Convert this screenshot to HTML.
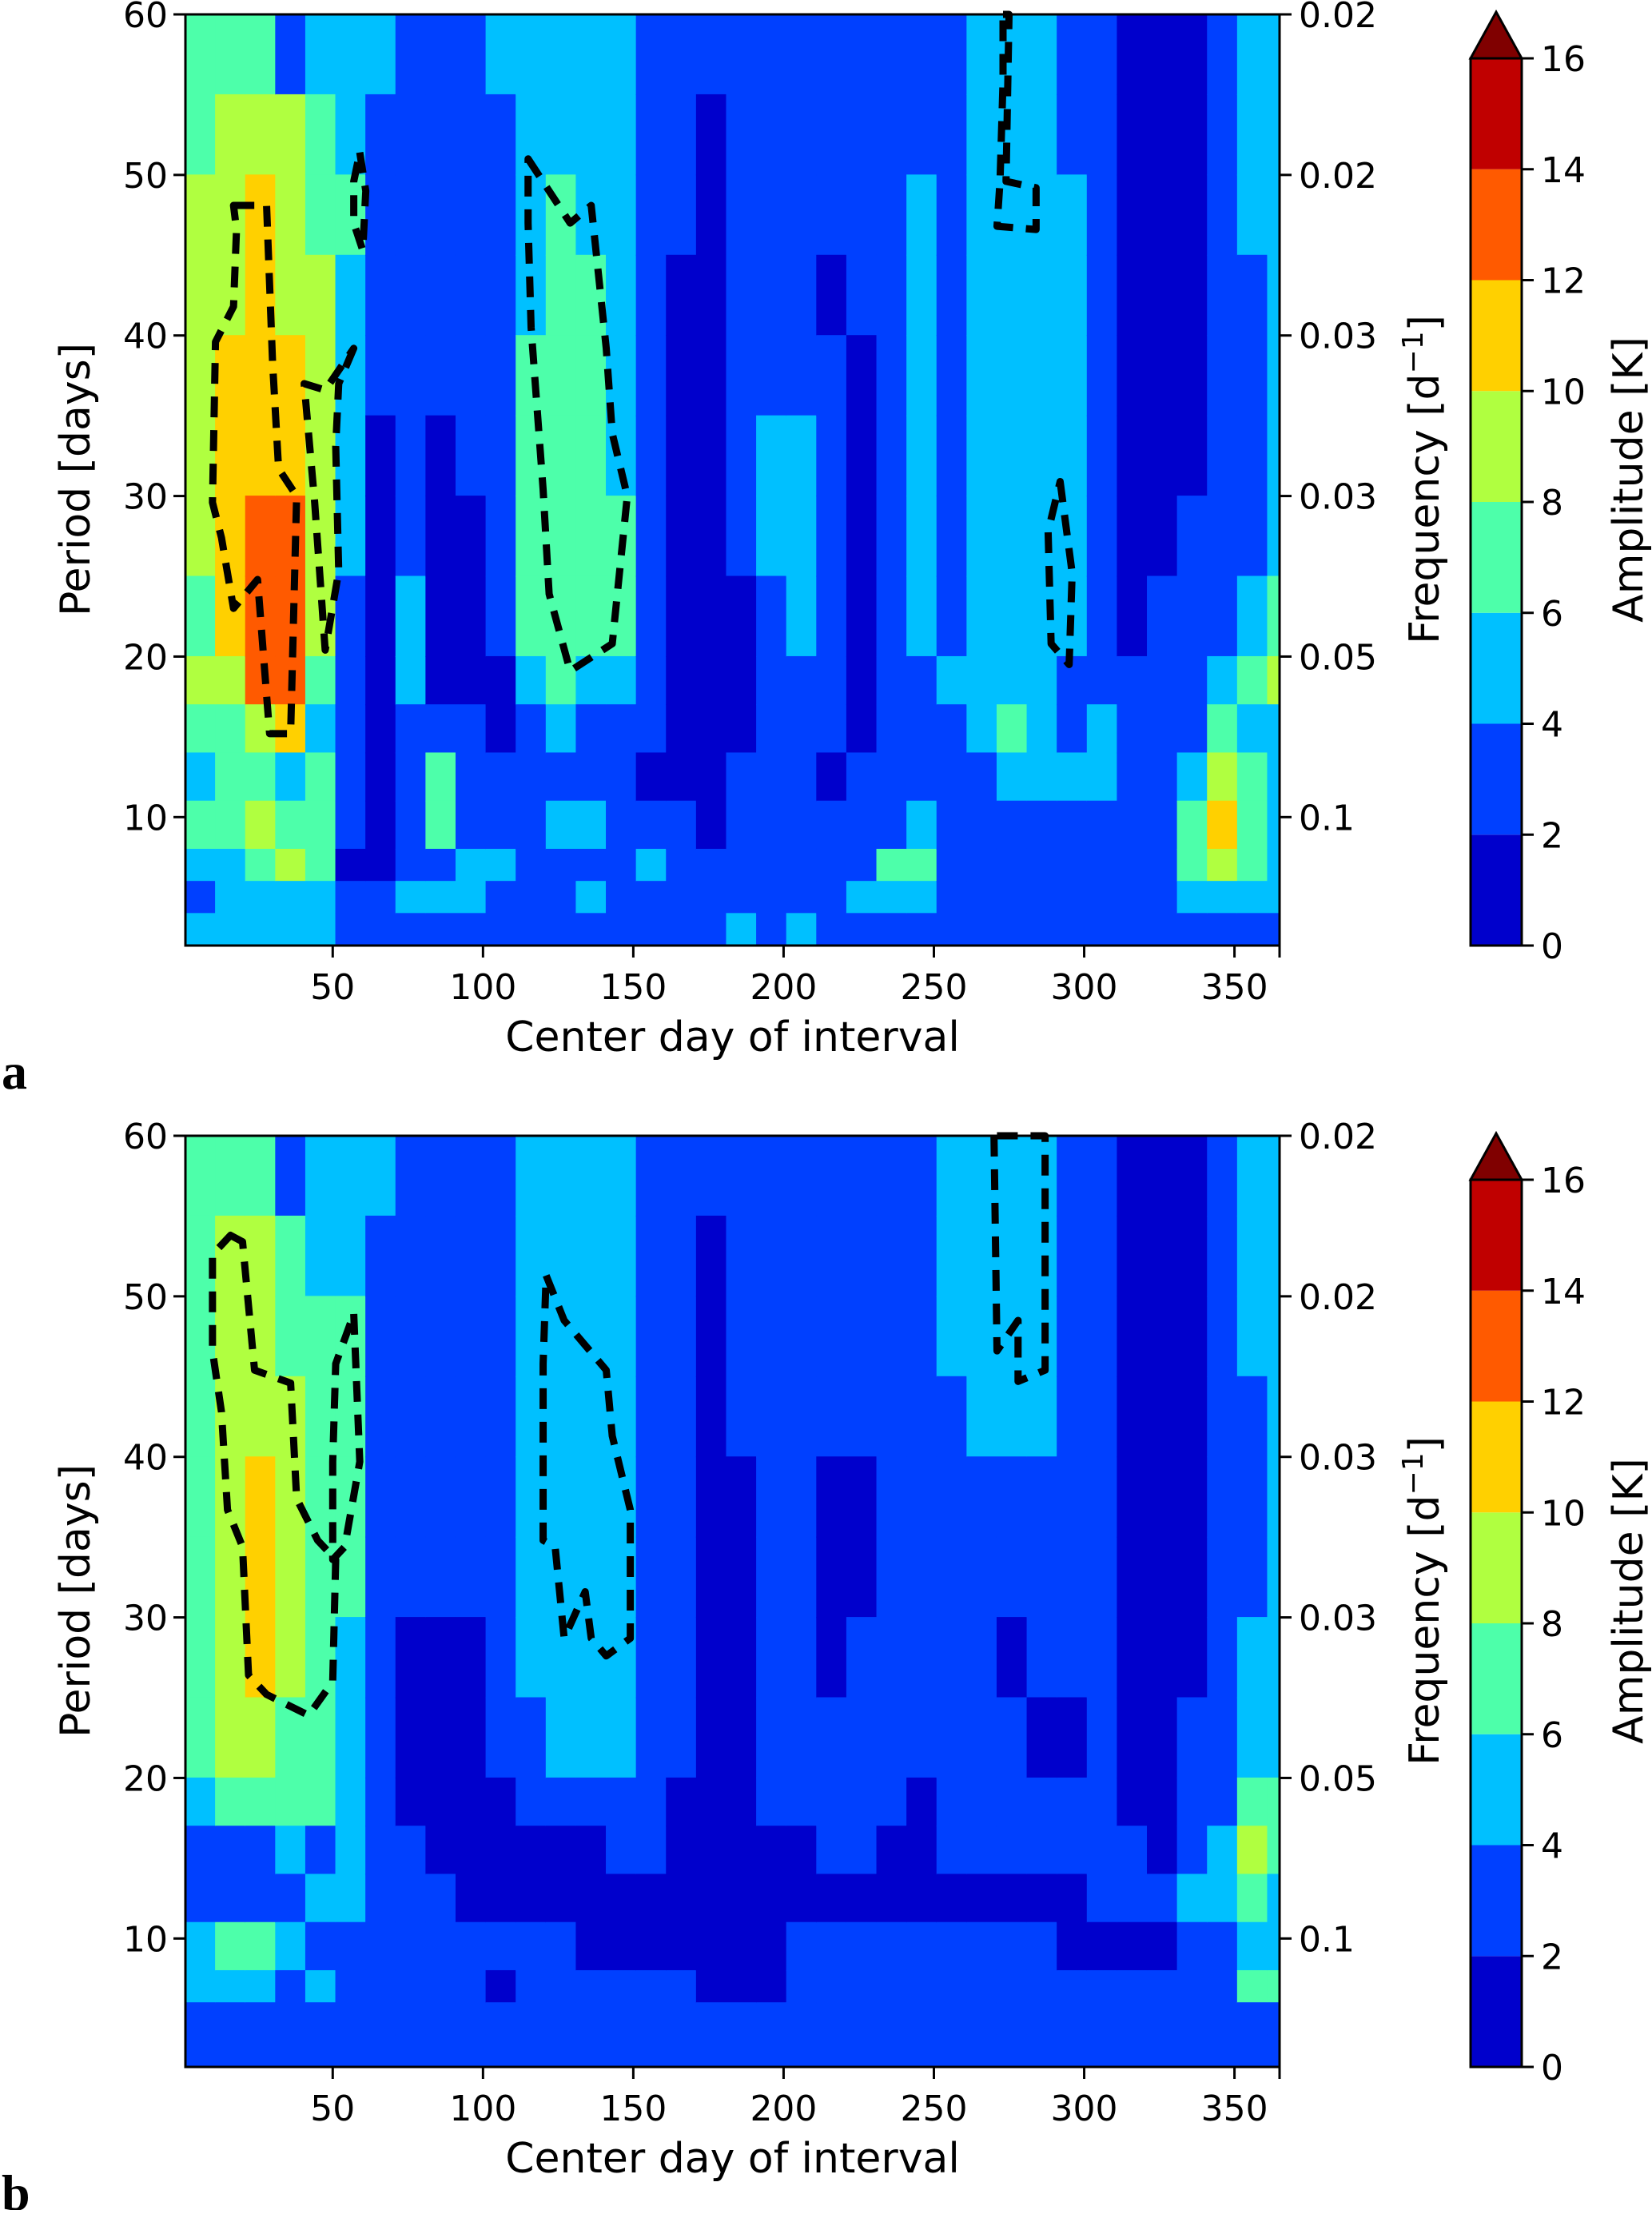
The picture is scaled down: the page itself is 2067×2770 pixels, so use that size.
<!DOCTYPE html>
<html><head><meta charset="utf-8"><style>
body{margin:0;background:#fff}
svg text{font-family:"DejaVu Sans","Liberation Sans",sans-serif;fill:#000}
</style></head><body>
<svg id="fig" xmlns="http://www.w3.org/2000/svg" width="2067" height="2765" viewBox="0 0 2067 2765"></svg>
<script>
// ---- data ----
const dayBinStarts = [1,11,21,31,41,51,61,71,81,91,101,111,121,131,141,151,161,171,181,191,201,211,221,231,241,251,261,271,281,291,301,311,321,331,341,351,361];
const periodBands = [60,55,50,45,40,35,30,25,20,17,14,11,8,6,4,2];
const ampTicks = [0,2,4,6,8,10,12,14,16];
const dayTicks = [50,100,150,200,250,300,350];
const periodTicks = [10,20,30,40,50,60];
const freqTickLabels = ["0.1","0.05","0.03","0.03","0.02","0.02"];
const levelColors = ["#0000cc","#0040ff","#00c0ff","#4dffaa","#b0ff40","#ffd000","#ff5a00","#c00000"];
// amplitude bin per column (bin k = 2k..2k+2 K), rows from period 60 down to 2
const gridA = ["334444434323212","344455554333222","345555666434322","144455666523422","233444443233322","223222211111011","211110000000011","111111122111121","111110000133121","111111000111221","211111110011211","222233332111111","223333333212111","222333332112121","222222332111111","111111111101211","111000000001111","100000000000111","111111100011112","111112211111111","111112221111112","111011111101111","111100000011121","111111111111321","112222221112321","111111112111111","222222222211111","222222222321111","222222222221111","112222221121111","111111111221111","000000001111111","000000011111111","000000111123321","111111112345421","222111123233321","222222234222221"];
const gridB = ["333333332112211","344444443113211","344455543113211","133444433212111","223333333121211","223333222221111","211111111111111","111111000111111","111111000011111","111111000001111","111111110001011","222222211001111","222222221001111","222222221000111","222222221100111","111111111100111","111111110000111","100000000000011","111100000000011","111111111000011","111111111001111","111100011101111","111100111101111","111111111001111","111111110001111","222111111101111","222211111101111","222211011101111","222211101101111","111111101100111","111111111110111","000000000110111","000000000010111","000000011121111","111111111221111","222111223432311","222222223322311"];
const contourA1Days = [17,28,30,32,38,36,29,25,17,13,10,11,17,18];
const contourA1Periods = [48.1,48.1,38.3,31.7,30.0,15.2,15.2,24.8,23.0,27.4,29.6,39.6,41.8,46.6];
const contourA2Days = [57,52,51,52,47.5,44,40.5,47.5];
const contourA2Periods = [39.2,37.0,33.1,25.3,20.4,29.6,37.0,36.6];
const contourA3Days = [115,129,136,141,143,148,143,129,122,120,116,115];
const contourA3Periods = [51.0,47.0,48.1,39.2,33.9,30.0,20.8,19.1,23.9,30.4,40.5,47.0];
const contourA4Days = [273,275,274,284,284,271,272,273];
const contourA4Periods = [60,60,49.6,49.2,46.6,46.8,49.6,55.8];
const contourA5Days = [292,296,295,289,288];
const contourA5Periods = [30.9,25.2,19.5,20.8,27.8];
const contourA6Days = [59,61,60,57,57];
const contourA6Periods = [51.4,49,45.3,47,49.6];
const contourB1Days = [16,20,24,36,38,45,51,50,42,28,22,20,15,13,10,10];
const contourB1Periods = [53.8,53.4,45.4,44.6,37.4,34.8,33.6,26.0,23.9,25.2,26.4,34.4,36.7,42.8,46.6,52.6];
const contourB2Days = [57,59,54,50,50,51];
const contourB2Periods = [48.9,39.7,34.4,33.6,39.7,45.8];
const contourB3Days = [121,127,141,143,149,149,141,136,134,127,124,120,120];
const contourB3Periods = [51.3,48.5,45.4,41.3,36.7,28.7,27.6,28.7,31.6,28.7,34.4,34.8,45.8];
const contourB4Days = [270,271,278,278,287,287];
const contourB4Periods = [60,46.6,48.5,44.7,45.4,60];

// ---- drawing ----
const svg = document.getElementById('fig');
const NS = 'http://www.w3.org/2000/svg';
function mk(tag, attrs, parent){const e=document.createElementNS(NS,tag);for(const k in attrs)e.setAttribute(k,attrs[k]);(parent||svg).appendChild(e);return e;}
const X0=232,X1=1601,PH=1165;
const xDay = d => X0 + (d-1)*(X1-X0)/364;
function drawPanel(off, grid, contours, letter){
  const yP = p => off + 18 + (60-p)*PH/58;
  const g = mk('g',{});
  
  
  grid.forEach((col,ci)=>{
    const d0 = dayBinStarts[ci], d1 = ci+1<dayBinStarts.length? dayBinStarts[ci+1] : 365;
    for(let r=0;r<periodBands.length-1;r++){
      const lv = +col[r];
      const rc = mk('rect',{x:xDay(d0)-0.5,y:yP(periodBands[r])-0.5,width:xDay(d1)-xDay(d0)+1,height:yP(periodBands[r+1])-yP(periodBands[r])+1,fill:levelColors[lv]},g);
      
      
    }
  });
  contours.forEach(([ds,ps])=>{
    const pts = ds.map((d,i)=>xDay(d)+','+yP(ps[i])).join(' ');
    const pl = mk('polygon',{points:pts,fill:'none',stroke:'#000','stroke-width':9,'stroke-dasharray':'26 16','stroke-linejoin':'round'},g);
    
    
  });
  const fr = mk('rect',{x:X0,y:off+18,width:X1-X0,height:PH,fill:'none',stroke:'#000','stroke-width':3});
  
  
  dayTicks.forEach(d=>{
    mk('line',{x1:xDay(d),x2:xDay(d),y1:off+18+PH,y2:off+18+PH+15,stroke:'#000','stroke-width':3});
    const t = mk('text',{x:xDay(d),y:off+1250,'font-size':44,'text-anchor':'middle'}); t.textContent=d;
    
    
  });
  mk('line',{x1:X1,x2:X1,y1:off+18+PH,y2:off+18+PH+15,stroke:'#000','stroke-width':3});
  periodTicks.forEach((p,i)=>{
    mk('line',{x1:X0-15,x2:X0,y1:yP(p),y2:yP(p),stroke:'#000','stroke-width':3});
    mk('line',{x1:X1,x2:X1+15,y1:yP(p),y2:yP(p),stroke:'#000','stroke-width':3});
    const t = mk('text',{x:X0-22,y:yP(p)+16,'font-size':44,'text-anchor':'end'}); t.textContent=p;
    
    
    const f = mk('text',{x:X1+24,y:yP(p)+16,'font-size':44}); f.textContent=freqTickLabels[i];
    
    
  });
  const xl = mk('text',{x:(X0+X1)/2,y:off+1315,'font-size':52,'text-anchor':'middle'}); xl.textContent='Center day of interval';
  
  
  const yl = mk('text',{x:0,y:0,'font-size':52,'text-anchor':'middle',transform:`translate(112,${off+600}) rotate(-90)`}); yl.textContent='Period [days]';
  
  
  const fl = mk('text',{x:0,y:0,'font-size':52,'text-anchor':'middle',transform:`translate(1800,${off+600}) rotate(-90)`});
  fl.innerHTML='Frequency [d<tspan baseline-shift="super" font-size="36">−1</tspan>]';
  
  
  // colorbar
  const cb0=1840,cb1=1904,cTop=off+73,cBot=off+1183;
  const yA = a => cBot - a*(cBot-cTop)/16;
  for(let i=0;i<8;i++){
    const r = mk('rect',{x:cb0,y:yA(ampTicks[i+1]),width:cb1-cb0,height:yA(ampTicks[i])-yA(ampTicks[i+1]),fill:levelColors[i]});
    
    
  }
  const tri = mk('polygon',{points:`${cb0},${cTop} ${(cb0+cb1)/2},${off+15} ${cb1},${cTop}`,fill:'#800000',stroke:'#000','stroke-width':3});
  
  
  mk('rect',{x:cb0,y:cTop,width:cb1-cb0,height:cBot-cTop,fill:'none',stroke:'#000','stroke-width':3});
  ampTicks.forEach(a=>{
    mk('line',{x1:cb1,x2:cb1+15,y1:yA(a),y2:yA(a),stroke:'#000','stroke-width':3});
    const t = mk('text',{x:cb1+24,y:yA(a)+16,'font-size':44}); t.textContent=a;
    
    
  });
  const al = mk('text',{x:0,y:0,'font-size':52,'text-anchor':'middle',transform:`translate(2055,${off+600}) rotate(-90)`}); al.textContent='Amplitude [K]';
  
  
  const pl = mk('text',{x:2,y:off+1362,'font-size':64,'font-weight':'bold',style:'font-family:"Liberation Serif",serif'}); pl.textContent=letter;
  
  
}
drawPanel(0, gridA, [[contourA1Days,contourA1Periods],[contourA2Days,contourA2Periods],[contourA3Days,contourA3Periods],[contourA4Days,contourA4Periods],[contourA5Days,contourA5Periods],[contourA6Days,contourA6Periods]], 'a');
drawPanel(1403, gridB, [[contourB1Days,contourB1Periods],[contourB2Days,contourB2Periods],[contourB3Days,contourB3Periods],[contourB4Days,contourB4Periods]], 'b');
</script>
</body></html>
